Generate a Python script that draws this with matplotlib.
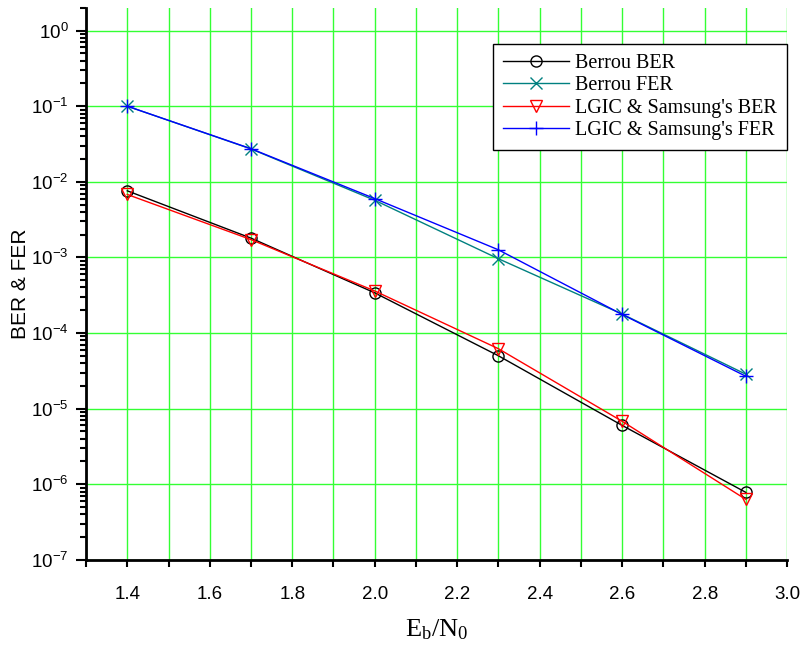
import matplotlib.pyplot as plt
from matplotlib.ticker import MultipleLocator, LogLocator, NullFormatter, FixedLocator

# Eb/N0 points
ebn0 = [1.4, 1.7, 2.0, 2.3, 2.6, 2.9]

berrou_ber = [7.6e-3, 1.8e-3, 3.4e-4, 5.0e-5, 6.0e-6, 7.8e-7]
berrou_fer = [0.1, 0.0272, 5.7e-3, 9.6e-4, 1.78e-4, 2.85e-5]
lgic_ber = [6.8e-3, 1.72e-3, 3.6e-4, 6.2e-5, 6.8e-6, 6.3e-7]
lgic_fer = [0.1, 0.0274, 6.0e-3, 1.26e-3, 1.76e-4, 2.68e-5]

xtick_labels = ["1.4", "1.6", "1.8", "2.0", "2.2", "2.4", "2.6", "2.8", "3.0"]

fig = plt.figure(figsize=(8.04, 6.51), dpi=100)
ax = fig.add_axes([0.107, 0.14, 0.872, 0.848])

ax.semilogy(ebn0, berrou_ber, color="black", marker="o", mfc="none", ms=8, lw=1, label="Berrou BER")
ax.semilogy(ebn0, berrou_fer, color="#008080", marker="x", ms=9, lw=1, label="Berrou FER")
ax.semilogy(ebn0, lgic_ber, color="red", marker="v", mfc="none", ms=9, lw=1, label="LGIC & Samsung's BER")
ax.semilogy(ebn0, lgic_fer, color="blue", marker="+", ms=10, lw=1, label="LGIC & Samsung's FER")

ax.set_xlim(1.3, 3.0)
ax.set_ylim(1e-7, 2)

# x ticks every 0.1, labels on even tenths
ax.xaxis.set_major_locator(FixedLocator([float(s) for s in xtick_labels]))
ax.xaxis.set_minor_locator(MultipleLocator(0.1))
ax.set_xticklabels(xtick_labels)
ax.yaxis.set_major_locator(LogLocator(base=10, numticks=20))
ax.yaxis.set_minor_locator(LogLocator(base=10, subs=range(2, 10), numticks=20))
ax.yaxis.set_minor_formatter(NullFormatter())

ax.tick_params(axis="x", which="both", direction="out", length=5, width=1.5, labelsize=13.5, pad=14)
ax.tick_params(axis="y", which="major", direction="out", length=7.5, width=1.5, labelsize=13.5, pad=5)
ax.tick_params(axis="y", which="minor", direction="out", length=4.5, width=1.5)
for lab in ax.get_xticklabels() + ax.get_yticklabels():
    lab.set_family("Liberation Sans")

ax.grid(True, which="major", color="#33ff33", lw=1)
ax.grid(True, which="minor", axis="x", color="#33ff33", lw=1)
ax.set_axisbelow(True)

ax.spines["top"].set_visible(False)
ax.spines["right"].set_visible(False)
ax.spines["left"].set_linewidth(2)
ax.spines["bottom"].set_linewidth(2)

ax.set_ylabel("BER & FER", fontsize=15, family="Liberation Sans", labelpad=1)
ax.set_xlabel(r"$\mathregular{E_b/N_0}$", fontsize=19, family="Liberation Serif", labelpad=10)

leg = ax.legend(loc="upper right", bbox_to_anchor=(1.0, 0.935), borderaxespad=0,
                prop={"family": "Liberation Serif", "size": 14.5},
                fancybox=False, edgecolor="black", framealpha=1, handlelength=3.3,
                handletextpad=0.3, borderpad=0.5, labelspacing=0.17)
leg.get_frame().set_linewidth(1)

fig.savefig("out.png", dpi=100)
